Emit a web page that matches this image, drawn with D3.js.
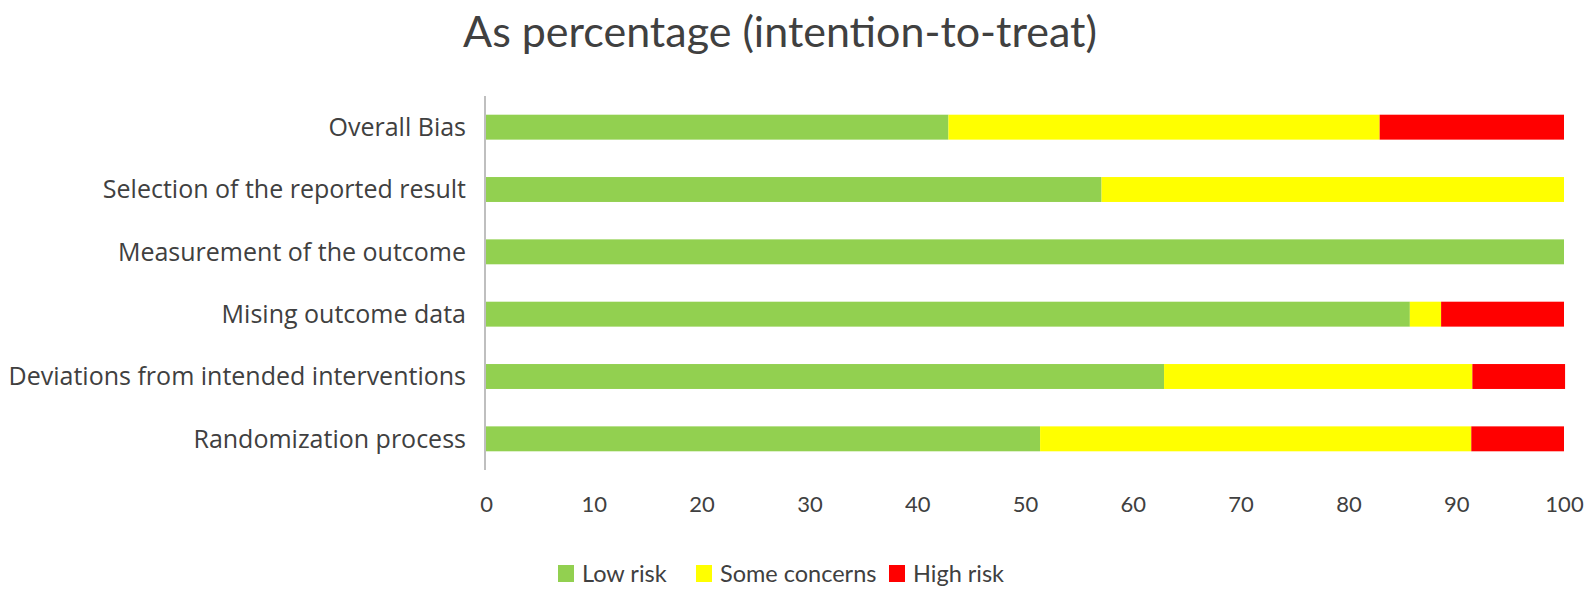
<!DOCTYPE html>
<html>
<head>
<meta charset="utf-8">
<script src="https://cdn.jsdelivr.net/npm/d3@7"></script>
<style>
  html, body { margin: 0; padding: 0; background: #fff; }
  svg { display: block; }
</style>
</head>
<body>
<svg id="chart" width="1595" height="597"></svg>
<script>
const categories = [
  "Overall Bias",
  "Selection of the reported result",
  "Measurement of the outcome",
  "Mising outcome data",
  "Deviations from intended interventions",
  "Randomization process"
];
const lowRisk      = [42.9, 57.1, 100, 85.7, 62.9, 51.4];
const someConcerns = [40.0, 42.9, 0, 2.9, 28.6, 40.0];
const highRisk     = [17.1, 0, 0, 11.4, 8.6, 8.6];
const seriesNames  = ["Low risk", "Some concerns", "High risk"];
const seriesColors = ["#92d050", "#ffff00", "#ff0000"];
const xTicks = [0, 10, 20, 30, 40, 50, 60, 70, 80, 90, 100];
const chartTitle = "As percentage (intention-to-treat)";

const svg = d3.select("#chart");
const textColor = "#404040";
const plotLeft = 486, plotRight = 1564, plotTop = 96, plotBottom = 470;

const x = d3.scaleLinear().domain([0, 100]).range([plotLeft, plotRight]);
const y = d3.scaleBand().domain(categories).range([plotTop, plotBottom]).paddingInner(0.6).paddingOuter(0.3);

const rows = categories.map((c, i) => ({ cat: c, "Low risk": lowRisk[i], "Some concerns": someConcerns[i], "High risk": highRisk[i] }));
const stack = d3.stack().keys(seriesNames)(rows);

// title
svg.append("text")
  .attr("x", 780).attr("y", 47)
  .attr("text-anchor", "middle")
  .attr("font-family", "Lato, 'Open Sans', sans-serif")
  .attr("font-size", 43)
  .attr("fill", textColor)
  .text(chartTitle);

// bars
svg.append("g").selectAll("g").data(stack).join("g")
  .attr("fill", (d, i) => seriesColors[i])
  .selectAll("rect").data(d => d).join("rect")
  .attr("x", d => x(d[0]))
  .attr("width", d => Math.max(0, x(d[1]) - x(d[0])))
  .attr("y", d => y(d.data.cat))
  .attr("height", y.bandwidth());

// vertical axis line
svg.append("line")
  .attr("x1", x(0) - 1).attr("x2", x(0) - 1)
  .attr("y1", plotTop).attr("y2", plotBottom)
  .attr("stroke", "#bfbfbf").attr("stroke-width", 2);

// category labels
svg.append("g").selectAll("text").data(categories).join("text")
  .attr("x", 466)
  .attr("y", d => y(d) + y.bandwidth() / 2)
  .attr("dy", "0.35em")
  .attr("text-anchor", "end")
  .attr("font-family", "'Open Sans', sans-serif")
  .attr("font-size", 25)
  .attr("fill", textColor)
  .text(d => d);

// x tick labels
const xAxis = d3.axisBottom(x).tickValues(xTicks).tickSize(0).tickPadding(0);
const gx = svg.append("g").attr("transform", `translate(0, 496)`).call(xAxis);
gx.select(".domain").remove();
gx.selectAll("text")
  .attr("font-family", "Lato, 'Open Sans', sans-serif")
  .attr("font-size", 22)
  .attr("fill", textColor)
  .attr("dy", "0.71em");

// legend
const legendX = [558, 696, 889];
const lg = svg.append("g").selectAll("g").data(seriesNames).join("g")
  .attr("transform", (d, i) => `translate(${legendX[i]}, 0)`);
lg.append("rect")
  .attr("x", 0).attr("y", 565).attr("width", 16).attr("height", 17)
  .attr("fill", (d, i) => seriesColors[i]);
lg.append("text")
  .attr("x", 24).attr("y", 574)
  .attr("dy", "0.35em")
  .attr("font-family", "Lato, 'Open Sans', sans-serif")
  .attr("font-size", 23.5)
  .attr("fill", textColor)
  .text(d => d);
</script>
</body>
</html>
